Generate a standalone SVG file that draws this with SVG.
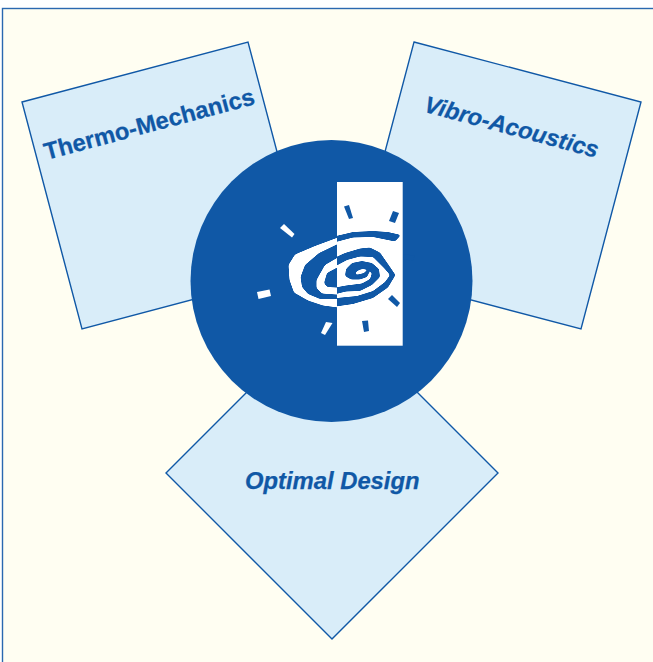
<svg xmlns="http://www.w3.org/2000/svg" width="653" height="662" viewBox="0 0 653 662">
<style>
.card{fill:#d9edf9;stroke:#1058a6;stroke-width:1.4}
.lbl{font-family:"Liberation Sans",Arial,sans-serif;font-weight:bold;font-size:23.8px;fill:#1058a6;stroke:#1058a6;stroke-width:.25}
.it{font-style:italic}
.b{fill:#1058a6}
.w{fill:#fff}
</style>
<defs>
<filter id="smooth" x="-10%" y="-10%" width="120%" height="120%" color-interpolation-filters="sRGB">
<feGaussianBlur stdDeviation="0.9"/>
<feComponentTransfer><feFuncA type="linear" slope="5" intercept="-2"/></feComponentTransfer>
</filter>
<clipPath id="leftSide"><rect x="280" y="220" width="57" height="100"/></clipPath>
<clipPath id="rightSide"><rect x="337" y="220" width="70" height="100"/></clipPath>
</defs>
<rect width="653" height="662" fill="#fff"/>
<rect id="frame" x="2.5" y="8.5" width="670" height="670" fill="#fffef2" stroke="#2a68b0" stroke-width="1.4"/>
<g id="thermo-mechanics">
<polygon class="card" points="22,102 248,42 308,269 82,329"/>
<text class="lbl" transform="translate(46.500,160) rotate(-15)">Thermo-Mechanics</text>
</g>
<g id="vibro-acoustics">
<polygon class="card" points="414,42 641,102 581,329 354,269"/>
<text class="lbl it" style="font-size:23.5px" transform="translate(423,111.500) rotate(15)">Vibro-Acoustics</text>
</g>
<g id="optimal-design">
<polygon class="card" points="332,307 498,473 332,639 166,473"/>
<text class="lbl it" x="245" y="489">Optimal Design</text>
</g>
<g id="hub">
<circle class="b" cx="331.500" cy="281" r="141"/>
<rect class="w" x="337" y="182" width="65.700" height="163.700"/>
<g id="swirl-white" clip-path="url(#leftSide)"><g filter="url(#smooth)">
<polygon class="w" points="342,236 315,246 295,254.500 288.500,265 289.500,280 294,292.500 308,300.500 323,305.500 342,308 342,299 320,299 308,294 302,287 300.500,277 305,265 319,253 342,242"/>
<polygon class="w" points="342,255 325,265 316.500,280 316.500,288 322,293.500 342,295 342,288 327,287 324,283 327,273 342,265"/>
</g></g>
<g id="swirl-blue" clip-path="url(#rightSide)"><g filter="url(#smooth)">
<polygon class="b" points="332,237 353,232 373,231 388,232 401,235 395,241.500 373,237 353,237.500 332,243"/>
<polygon class="b" points="332,259 345,253 360,248.500 370,247.500 380,252.500 388,264 395.500,275 388,287.500 373,298 353,304 332,307 332,298.500 357,296 373,291 385,282 390,275 384,268 373,257 360,256.500 347,260 332,268"/>
<polygon class="b" points="332,295 346,291.500 360,291 372,285 380,277 379,269 372,263 362,261 352,263 346,269 345,276 351,279.500 360,279.500 367,277 369.500,272 367,270 364,273 358,274.500 354.500,274.500 357,271 362,269 368,269.500 372,273 370,279 362,283.500 346,285.500 332,288"/>
</g></g>
<g id="ticks-white">
<polygon class="w" points="280,228 284,224 294.500,234 292,237.500"/>
<polygon class="w" points="257,292 269.500,289.500 271,296 258.500,299"/>
<polygon class="w" points="326,322 332.500,323 325,335 321,333"/>
</g>
<g id="ticks-blue">
<polygon class="b" points="344,206.500 349,205 353,218 349,219"/>
<polygon class="b" points="393,211 399,213 395,223 389,221"/>
<polygon class="b" points="404,254 414.500,256 413,261 403,259"/>
<polygon class="b" points="392,295 400,303 397,307 388,299"/>
<polygon class="b" points="362,321 368,320.500 369,331 364,332"/>
</g>
</g>
</svg>
